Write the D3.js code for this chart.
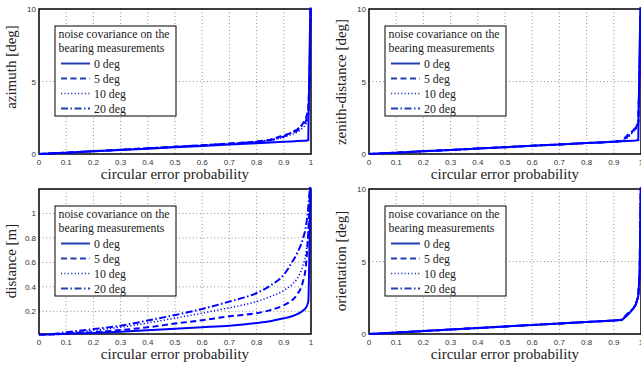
<!DOCTYPE html>
<html>
<head>
<meta charset="utf-8">
<script src="https://cdnjs.cloudflare.com/ajax/libs/d3/7.8.5/d3.min.js"></script>
<style>
  body { margin: 0; background: #fff; }
  .tick-label { font-family: "Liberation Sans", Arial, sans-serif; font-size: 8px; fill: #333; }
  .serif { font-family: "Liberation Serif", "DejaVu Serif", serif; fill: #222; }
  .grid { stroke: #777; stroke-width: 0.8; stroke-dasharray: 1,2.5; fill: none; }
  .frame { fill: none; stroke: #000; stroke-width: 1.5; }
</style>
</head>
<body>
<svg width="641" height="369"></svg>
<script>
// circular error probability (x) shared by every curve
var cep = [0, 0.05, 0.1, 0.2, 0.3, 0.4, 0.5, 0.6, 0.7, 0.8, 0.85, 0.9, 0.93, 0.95, 0.97, 0.98, 0.99, 0.995, 1];

var noiseLabels = ["0 deg", "5 deg", "10 deg", "20 deg"];
var xTicks = [0, 0.1, 0.2, 0.3, 0.4, 0.5, 0.6, 0.7, 0.8, 0.9, 1];
var degTicks = [0, 5, 10];
var distTicks = [0.2, 0.4, 0.6, 0.8, 1];

// one row per noise level: 0, 5, 10, 20 deg
var azimuthErr = [
  [0, 0.045, 0.09, 0.19, 0.28, 0.37, 0.47, 0.56, 0.65, 0.74, 0.79, 0.84, 0.87, 0.89, 0.91, 0.92, 0.95, 7.4, 12],
  [0, 0.045, 0.09, 0.19, 0.29, 0.39, 0.5, 0.6, 0.72, 0.85, 0.98, 1.3, 1.45, 1.6, 2.1, 2.4, 3.0, 5.5, 12],
  [0, 0.045, 0.09, 0.19, 0.29, 0.39, 0.49, 0.59, 0.7, 0.82, 0.92, 1.15, 1.35, 1.5, 1.8, 2.0, 2.5, 5, 12],
  [0, 0.045, 0.09, 0.19, 0.29, 0.39, 0.5, 0.6, 0.71, 0.84, 0.95, 1.2, 1.5, 1.7, 2.0, 2.2, 2.8, 5.2, 12]
];
var zenithErr = [
  [0, 0.045, 0.09, 0.19, 0.28, 0.38, 0.47, 0.57, 0.66, 0.76, 0.8, 0.85, 0.88, 0.9, 0.92, 0.93, 0.96, 7.4, 12],
  [0, 0.045, 0.09, 0.19, 0.28, 0.38, 0.47, 0.57, 0.66, 0.76, 0.8, 0.85, 0.9, 1.3, 1.6, 1.8, 2.1, 6, 12],
  [0, 0.045, 0.09, 0.19, 0.28, 0.38, 0.47, 0.57, 0.66, 0.76, 0.8, 0.85, 0.88, 1.1, 1.5, 1.7, 2.0, 6, 12],
  [0, 0.045, 0.09, 0.19, 0.28, 0.38, 0.47, 0.57, 0.66, 0.76, 0.8, 0.85, 0.89, 1.2, 1.55, 1.75, 2.2, 6, 12]
];
var distanceErr = [
  [0.005, 0.012, 0.018, 0.024, 0.033, 0.045, 0.058, 0.07, 0.083, 0.105, 0.12, 0.143, 0.16, 0.178, 0.205, 0.225, 0.28, 0.8, 1.5],
  [0, 0.005, 0.02, 0.03, 0.047, 0.07, 0.1, 0.128, 0.16, 0.185, 0.21, 0.25, 0.29, 0.34, 0.44, 0.55, 0.85, 1.1, 1.5],
  [0, 0.008, 0.02, 0.045, 0.07, 0.105, 0.145, 0.185, 0.23, 0.28, 0.32, 0.37, 0.42, 0.47, 0.57, 0.66, 0.85, 1.1, 1.5],
  [0.008, 0.015, 0.03, 0.055, 0.083, 0.125, 0.17, 0.22, 0.28, 0.35, 0.41, 0.5, 0.6, 0.68, 0.79, 0.88, 1.05, 1.2, 1.5]
];
var orientationErr = [
  [0, 0.05, 0.1, 0.2, 0.31, 0.41, 0.52, 0.62, 0.72, 0.83, 0.88, 0.93, 0.97, 1.29, 1.71, 2.0, 2.6, 4.2, 11.5],
  [0, 0.05, 0.1, 0.2, 0.31, 0.41, 0.52, 0.62, 0.72, 0.83, 0.88, 0.93, 0.98, 1.35, 1.72, 2.0, 2.6, 4.2, 11.5],
  [0, 0.05, 0.1, 0.2, 0.31, 0.41, 0.52, 0.62, 0.72, 0.83, 0.88, 0.93, 0.97, 1.3, 1.7, 2.0, 2.6, 4.2, 11.5],
  [0, 0.05, 0.1, 0.2, 0.31, 0.41, 0.52, 0.62, 0.72, 0.83, 0.88, 0.93, 1.0, 1.4, 1.74, 2.0, 2.6, 4.2, 11.5]
];

var svg = d3.select("svg");
var W = 272, H = 145;

var lineStyles = [
  {dash: null, w: 2},
  {dash: "6,3.5", w: 2},
  {dash: "1.2,2.2", w: 1.5},
  {dash: "7,2.5,1.5,2.5", w: 2}
];

var panels = [
  {ylabel: "azimuth [deg]", data: azimuthErr, ticks: degTicks, domain: [0, 10], left: 39, top: 9, labelMid: 67, curve: d3.curveLinear},
  {ylabel: "zenith-distance [deg]", data: zenithErr, ticks: degTicks, domain: [0, 10], left: 369, top: 9, labelMid: 82, curve: d3.curveLinear},
  {ylabel: "distance [m]", data: distanceErr, ticks: distTicks, domain: [0.015, 1.2], left: 39, top: 189, labelMid: 261, curve: d3.curveMonotoneX},
  {ylabel: "orientation [deg]", data: orientationErr, ticks: degTicks, domain: [0, 10], left: 369, top: 189, labelMid: 261, curve: d3.curveLinear}
];

panels.forEach(function(p, pi) {
  var x = d3.scaleLinear().domain([0, 1]).range([p.left, p.left + W]);
  var y = d3.scaleLinear().domain(p.domain).range([p.top + H, p.top]);
  var g = svg.append("g");

  g.append("rect").attr("x", p.left).attr("y", p.top).attr("width", W).attr("height", H).attr("fill", "#fff");

  // grid
  g.selectAll(".gx").data(xTicks.slice(1, -1)).enter().append("line")
    .attr("class", "grid")
    .attr("x1", function(d) { return x(d); }).attr("x2", function(d) { return x(d); })
    .attr("y1", p.top).attr("y2", p.top + H);
  g.selectAll(".gy").data(p.ticks.filter(function(t) { return t > p.domain[0] && t < p.domain[1]; })).enter().append("line")
    .attr("class", "grid")
    .attr("y1", function(d) { return y(d); }).attr("y2", function(d) { return y(d); })
    .attr("x1", p.left).attr("x2", p.left + W);

  g.append("rect").attr("class", "frame")
    .attr("x", p.left).attr("y", p.top).attr("width", W).attr("height", H);

  // tick labels
  g.selectAll(".xt").data(xTicks).enter().append("text")
    .attr("class", "tick-label")
    .attr("x", function(d) { return x(d); })
    .attr("y", p.top + H + 11)
    .attr("text-anchor", "middle")
    .text(function(d) { return String(d); });
  g.selectAll(".yt").data(p.ticks).enter().append("text")
    .attr("class", "tick-label")
    .attr("x", p.left - 3)
    .attr("y", function(d) { return y(d) + 3; })
    .attr("text-anchor", "end")
    .text(function(d) { return String(d); });

  g.append("text").attr("class", "serif")
    .attr("x", p.left + W / 2).attr("y", p.top + H + 25)
    .attr("text-anchor", "middle").style("font-size", "15px")
    .text("circular error probability");
  g.append("text").attr("class", "serif")
    .attr("transform", "translate(" + (p.left - 23) + "," + p.labelMid + ") rotate(-90)")
    .attr("text-anchor", "middle").style("font-size", "15px")
    .text(p.ylabel);

  // curves
  var clipId = "clip" + pi;
  svg.append("clipPath").attr("id", clipId).append("rect")
    .attr("x", p.left - 1.5).attr("y", p.top - 1.5).attr("width", W + 3).attr("height", H + 3);
  var line = d3.line()
    .x(function(d, i) { return x(cep[i]); })
    .y(function(d) { return y(d); })
    .curve(p.curve);
  g.append("g").attr("clip-path", "url(#" + clipId + ")")
    .selectAll("path").data(p.data).enter().append("path")
    .attr("d", line)
    .attr("fill", "none")
    .attr("stroke", "#0000ff")
    .attr("stroke-width", function(d, i) { return lineStyles[i].w; })
    .attr("stroke-dasharray", function(d, i) { return lineStyles[i].dash; });

  // legend
  var lx = p.left + 16, ly = p.top + 17;
  var lg = g.append("g").attr("transform", "translate(" + lx + "," + ly + ")");
  lg.append("rect").attr("width", 121).attr("height", 90)
    .attr("fill", "#fff").attr("stroke", "#000").attr("stroke-width", 1);
  lg.append("text").attr("class", "serif").style("font-size", "11.8px")
    .attr("x", 3.5).attr("y", 12.3).text("noise covariance on the");
  lg.append("text").attr("class", "serif").style("font-size", "11.8px")
    .attr("x", 3.5).attr("y", 26.3).text("bearing measurements");
  noiseLabels.forEach(function(lab, i) {
    var cy = 37.5 + i * 15;
    lg.append("line").attr("x1", 6).attr("x2", 35).attr("y1", cy).attr("y2", cy)
      .attr("stroke", "#2040b0")
      .attr("stroke-width", lineStyles[i].w)
      .attr("stroke-dasharray", lineStyles[i].dash);
    lg.append("text").attr("class", "serif").style("font-size", "11.8px")
      .attr("x", 39).attr("y", cy + 4).text(lab);
  });
});
</script>
</body>
</html>
